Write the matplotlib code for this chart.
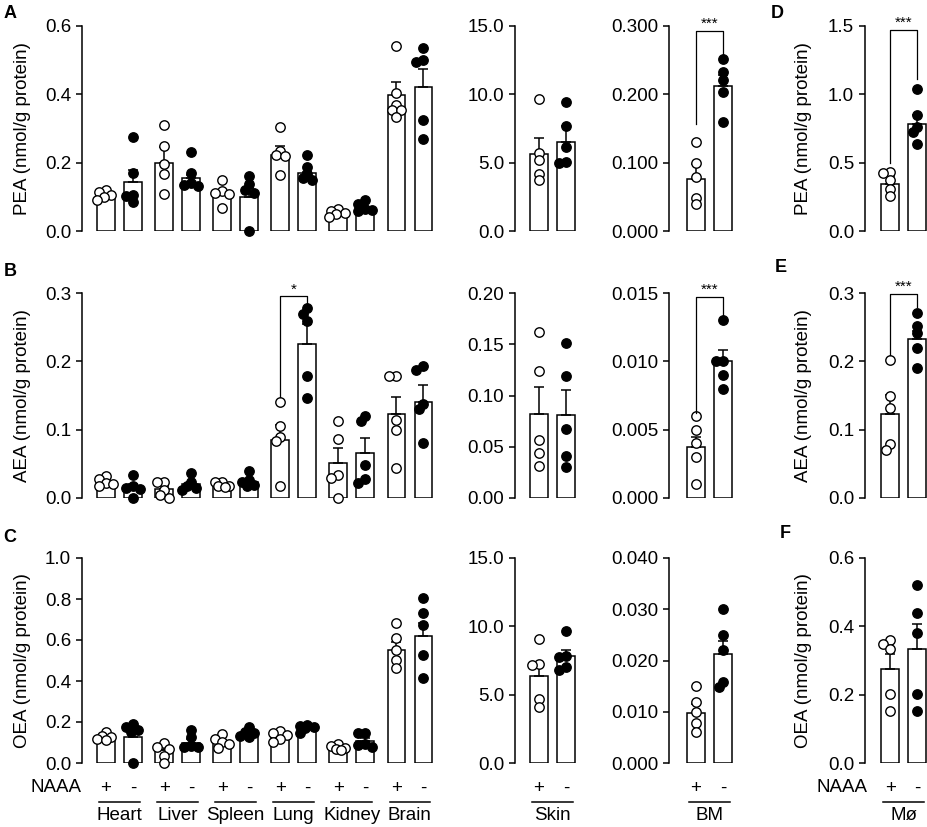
import numpy as np
import matplotlib
matplotlib.use("Agg")
import matplotlib.pyplot as plt
import matplotlib.transforms as mtransforms

plt.rcParams["font.family"] = ["Liberation Sans", "DejaVu Sans"]

# ---------------- data ----------------
tissues = ["Heart", "Liver", "Spleen", "Lung", "Kidney", "Brain"]

# PEA, tissues
pea_plus_pts = [[0.12, 0.115, 0.105, 0.10, 0.09],
                [0.31, 0.249, 0.195, 0.168, 0.107],
                [0.149, 0.117, 0.11, 0.107, 0.068],
                [0.305, 0.235, 0.222, 0.22, 0.165],
                [0.065, 0.06, 0.054, 0.05, 0.041],
                [0.542, 0.405, 0.37, 0.355, 0.355, 0.335]]
pea_minus_pts = [[0.276, 0.17, 0.105, 0.103, 0.084],
                 [0.232, 0.171, 0.14, 0.135, 0.133],
                 [0.16, 0.137, 0.119, 0.11, 0.0],
                 [0.222, 0.188, 0.168, 0.155, 0.15],
                 [0.09, 0.078, 0.065, 0.062, 0.058],
                 [0.535, 0.50, 0.495, 0.325, 0.27]]
pea_plus_mean = [0.105, 0.200, 0.11, 0.222, 0.053, 0.397]
pea_plus_sem = [0.005, 0.046, 0.009, 0.027, 0.004, 0.039]
pea_minus_mean = [0.144, 0.156, 0.10, 0.17, 0.06, 0.422]
pea_minus_sem = [0.035, 0.007, 0.025, 0.004, 0.005, 0.052]

pea_skin_pts = [[9.68, 5.68, 5.19, 4.2, 3.7], [9.43, 7.7, 6.17, 5.06, 5.0]]
pea_skin_mean = [5.63, 6.54]
pea_skin_sem = [1.16, 1.16]
pea_bm_pts = [[0.13, 0.099, 0.079, 0.049, 0.0395], [0.252, 0.232, 0.221, 0.203, 0.159]]
pea_bm_mean = [0.0766, 0.2116]
pea_bm_sem = [0.0208, 0.016]
pea_mac_pts = [[0.43, 0.425, 0.37, 0.31, 0.255], [1.037, 0.846, 0.76, 0.723, 0.637]]
pea_mac_mean = [0.343, 0.784]
pea_mac_sem = [0.057, 0.068]

# AEA, tissues
aea_plus_pts = [[0.032, 0.028, 0.022, 0.02, 0.018],
                [0.024, 0.023, 0.012, 0.005, 0.0],
                [0.024, 0.024, 0.018, 0.017, 0.016],
                [0.141, 0.105, 0.09, 0.083, 0.018],
                [0.113, 0.086, 0.034, 0.029, 0.0],
                [0.179, 0.179, 0.114, 0.1, 0.044]]
aea_minus_pts = [[0.034, 0.017, 0.015, 0.013, 0.0],
                 [0.037, 0.024, 0.017, 0.015, 0.012],
                 [0.04, 0.027, 0.023, 0.019, 0.017],
                 [0.278, 0.269, 0.259, 0.178, 0.147],
                 [0.12, 0.113, 0.049, 0.028, 0.022],
                 [0.193, 0.188, 0.138, 0.13, 0.08]]
aea_plus_mean = [0.022, 0.013, 0.02, 0.085, 0.051, 0.123]
aea_plus_sem = [0.003, 0.005, 0.002, 0.022, 0.022, 0.025]
aea_minus_mean = [0.016, 0.02, 0.024, 0.225, 0.066, 0.141]
aea_minus_sem = [0.005, 0.004, 0.004, 0.029, 0.022, 0.024]

aea_skin_pts = [[0.1616, 0.124, 0.057, 0.044, 0.031], [0.151, 0.119, 0.067, 0.041, 0.030]]
aea_skin_mean = [0.082, 0.081]
aea_skin_sem = [0.026, 0.024]
aea_bm_pts = [[0.006, 0.005, 0.004, 0.003, 0.001], [0.013, 0.01, 0.01, 0.009, 0.008]]
aea_bm_mean = [0.0037, 0.0100]
aea_bm_sem = [0.0008, 0.0008]
aea_mac_pts = [[0.2015, 0.149, 0.132, 0.079, 0.07], [0.271, 0.251, 0.241, 0.22, 0.19]]
aea_mac_mean = [0.123, 0.232]
aea_mac_sem = [0.028, 0.012]

# OEA, tissues
oea_plus_pts = [[0.152, 0.13, 0.127, 0.119, 0.111],
                [0.098, 0.078, 0.07, 0.033, 0.0],
                [0.14, 0.119, 0.103, 0.095, 0.075],
                [0.155, 0.144, 0.135, 0.119, 0.103],
                [0.091, 0.082, 0.075, 0.07, 0.065],
                [0.684, 0.61, 0.551, 0.502, 0.465]]
oea_minus_pts = [[0.19, 0.176, 0.163, 0.152, 0.0],
                 [0.163, 0.127, 0.082, 0.078, 0.078],
                 [0.176, 0.152, 0.144, 0.13, 0.127],
                 [0.184, 0.179, 0.176, 0.173, 0.148],
                 [0.147, 0.144, 0.095, 0.086, 0.078],
                 [0.805, 0.732, 0.673, 0.527, 0.415]]
oea_plus_mean = [0.124, 0.062, 0.103, 0.127, 0.076, 0.551]
oea_plus_sem = [0.007, 0.017, 0.011, 0.009, 0.004, 0.04]
oea_minus_mean = [0.127, 0.1, 0.14, 0.168, 0.105, 0.621]
oea_minus_sem = [0.035, 0.016, 0.009, 0.006, 0.015, 0.062]

oea_skin_pts = [[9.08, 7.24, 7.17, 4.65, 4.11], [9.69, 7.83, 7.78, 7.05, 6.8]]
oea_skin_mean = [6.39, 7.8]
oea_skin_sem = [0.95, 0.5]
oea_bm_pts = [[0.0151, 0.012, 0.0099, 0.0078, 0.006], [0.030, 0.0249, 0.0221, 0.0158, 0.0148]]
oea_bm_mean = [0.0098, 0.0213]
oea_bm_sem = [0.0017, 0.0026]
oea_mac_pts = [[0.361, 0.349, 0.333, 0.201, 0.151], [0.52, 0.44, 0.381, 0.201, 0.151]]
oea_mac_mean = [0.274, 0.335]
oea_mac_sem = [0.046, 0.073]

# significance brackets: (left leg bottom, top, right leg bottom)
sig_pea_bm = [0.156, 0.293, 0.252]
sig_pea_mac = [0.50, 1.47, 1.115]
sig_aea_lung = [0.148, 0.295, 0.279]
sig_aea_bm = [0.0062, 0.0147, 0.0134]
sig_aea_mac = [0.21, 0.2985, 0.28]

# ---------------- layout ----------------
W, H = 927, 827
UNIT = 27.0      # pixels per bar slot
GROUP = 2.15     # slot distance between tissue groups
FS = 13.5
LW = 1.1

fig = plt.figure(figsize=(W / 100, H / 100), dpi=100)


def px_axes(x0, xlim, row):
    y0, y1 = row
    w = (xlim[1] - xlim[0]) * UNIT
    ax = fig.add_axes([x0 / W, 1 - y1 / H, w / W, (y1 - y0) / H])
    ax.set_xlim(*xlim)
    for s in ["top", "right", "bottom"]:
        ax.spines[s].set_visible(False)
    ax.spines["left"].set_linewidth(LW)
    ax.set_xticks([])
    ax.tick_params(axis="y", direction="out", length=4.3, width=LW,
                   labelsize=FS, pad=3.5)
    return ax


def set_y(ax, ymax, step, fmt):
    ticks = np.arange(0, ymax + step / 2, step)
    ax.set_ylim(0, ymax)
    ax.set_yticks(ticks, [fmt % t for t in ticks])


def swarm(vals, ppy, diam=9.0):
    cands = [0, -4.5, 4.5, -7, 7, -2.5, 2.5, -9, 9]
    placed = []
    for v in vals:
        y = v * ppy
        best, best_d = 0, -1
        for c in cands:
            d = min([np.hypot(c - px, y - py) for px, py in placed] or [1e9])
            if d >= 0.7 * diam:
                best = c
                break
            if d > best_d:
                best_d, best = d, c
        placed.append((best, y))
    return [p[0] / UNIT for p in placed]


def draw(ax, xs, means, sems, pts, filled, ppy):
    ax.bar(xs, means, width=0.65, color="white", edgecolor="black",
           linewidth=LW, zorder=1)
    ax.errorbar(xs, means, yerr=[np.zeros(len(sems)), sems], fmt="none",
                ecolor="black", elinewidth=LW, capsize=3.5, capthick=LW,
                zorder=2)
    for x, p in zip(xs, pts):
        off = swarm(p, ppy)
        ax.scatter(np.array(off) + x, p, s=46,
                   facecolor="black" if filled else "white",
                   edgecolor="black", linewidth=1.0, zorder=3, clip_on=False)


def bracket(ax, x1, x2, ys, stars):
    yl, yt, yr = ys
    ax.plot([x1, x1, x2, x2], [yl, yt, yt, yr], color="black", lw=0.9,
            zorder=4, clip_on=False)
    shift = mtransforms.ScaledTranslation(0, 3 / 100, fig.dpi_scale_trans)
    ax.text((x1 + x2) / 2, yt, stars, ha="center", va="baseline",
            fontsize=11, transform=ax.transData + shift)


def under_labels(ax, xp, xm, name):
    tr = mtransforms.blended_transform_factory(ax.transData, ax.transAxes)
    ax.text(xp, -0.122, "+", ha="center", va="center", fontsize=FS,
            transform=tr)
    ax.text(xm, -0.122, "-", ha="center", va="center", fontsize=FS,
            transform=tr)
    ax.plot([xp - 0.25, xm + 0.25], [-0.19, -0.19], color="black", lw=LW,
            transform=tr, clip_on=False)
    ax.text((xp + xm) / 2, -0.258, name, ha="center", va="center",
            fontsize=FS, transform=tr)


rows = [(26, 231), (293, 498), (558, 763)]
main_x0, main_xlim = 82, (-0.89, 12.26)
skin_x0, skin_xlim = 515, (-0.89, 1.9)
bm_x0, bm_xlim = 669, (-1.0, 1.8)
mac_x0, mac_xlim = 865, (-0.93, 1.35)

xp = np.arange(len(tissues)) * GROUP
xm = xp + 1

lipids = [
    ("PEA", pea_plus_pts, pea_minus_pts, pea_plus_mean, pea_minus_mean,
     pea_plus_sem, pea_minus_sem, (0.6, 0.2, "%.1f"),
     pea_skin_pts, pea_skin_mean, pea_skin_sem, (15.0, 5.0, "%.1f"),
     pea_bm_pts, pea_bm_mean, pea_bm_sem, (0.3, 0.1, "%.3f"),
     pea_mac_pts, pea_mac_mean, pea_mac_sem, (1.5, 0.5, "%.1f")),
    ("AEA", aea_plus_pts, aea_minus_pts, aea_plus_mean, aea_minus_mean,
     aea_plus_sem, aea_minus_sem, (0.3, 0.1, "%.1f"),
     aea_skin_pts, aea_skin_mean, aea_skin_sem, (0.2, 0.05, "%.2f"),
     aea_bm_pts, aea_bm_mean, aea_bm_sem, (0.015, 0.005, "%.3f"),
     aea_mac_pts, aea_mac_mean, aea_mac_sem, (0.3, 0.1, "%.1f")),
    ("OEA", oea_plus_pts, oea_minus_pts, oea_plus_mean, oea_minus_mean,
     oea_plus_sem, oea_minus_sem, (1.0, 0.2, "%.1f"),
     oea_skin_pts, oea_skin_mean, oea_skin_sem, (15.0, 5.0, "%.1f"),
     oea_bm_pts, oea_bm_mean, oea_bm_sem, (0.04, 0.01, "%.3f"),
     oea_mac_pts, oea_mac_mean, oea_mac_sem, (0.6, 0.2, "%.1f")),
]

axes = []
for r, lip in enumerate(lipids):
    (name, ppts, mpts, pmean, mmean, psem, msem, yspec,
     skpts, skmean, sksem, skspec, bmpts, bmmean, bmsem, bmspec,
     mcpts, mcmean, mcsem, mcspec) = lip
    row = rows[r]
    hpx = row[1] - row[0]

    ax = px_axes(main_x0, main_xlim, row)
    set_y(ax, *yspec)
    ppy = hpx / yspec[0]
    draw(ax, xp, pmean, psem, ppts, False, ppy)
    draw(ax, xm, mmean, msem, mpts, True, ppy)

    axs = px_axes(skin_x0, skin_xlim, row)
    set_y(axs, *skspec)
    ppy = hpx / skspec[0]
    draw(axs, [0], [skmean[0]], [sksem[0]], [skpts[0]], False, ppy)
    draw(axs, [1], [skmean[1]], [sksem[1]], [skpts[1]], True, ppy)

    axb = px_axes(bm_x0, bm_xlim, row)
    set_y(axb, *bmspec)
    ppy = hpx / bmspec[0]
    draw(axb, [0], [bmmean[0]], [bmsem[0]], [bmpts[0]], False, ppy)
    draw(axb, [1], [bmmean[1]], [bmsem[1]], [bmpts[1]], True, ppy)

    axm = px_axes(mac_x0, mac_xlim, row)
    set_y(axm, *mcspec)
    ppy = hpx / mcspec[0]
    draw(axm, [0], [mcmean[0]], [mcsem[0]], [mcpts[0]], False, ppy)
    draw(axm, [1], [mcmean[1]], [mcsem[1]], [mcpts[1]], True, ppy)

    yc = 1 - (row[0] + row[1]) / 2 / H
    fig.text(23 / W, yc, name + " (nmol/g protein)", rotation=90,
             ha="center", va="center", fontsize=FS)
    fig.text(803 / W, yc, name + " (nmol/g protein)", rotation=90,
             ha="center", va="center", fontsize=FS)
    axes.append((ax, axs, axb, axm))

# significance
bracket(axes[0][2], 0, 1, sig_pea_bm, "***")
bracket(axes[0][3], 0, 1, sig_pea_mac, "***")
bracket(axes[1][0], xp[3], xm[3], sig_aea_lung, "*")
bracket(axes[1][2], 0, 1, sig_aea_bm, "***")
bracket(axes[1][3], 0, 1, sig_aea_mac, "***")

# bottom labels
axc, axcs, axcb, axcm = axes[2]
for i, t in enumerate(tissues):
    under_labels(axc, xp[i], xm[i], t)
under_labels(axcs, 0, 1, "Skin")
under_labels(axcb, 0, 1, "BM")
under_labels(axcm, 0, 1, "M\u00f8")
fig.text(81 / W, 1 - 788 / H, "NAAA", ha="right", va="center", fontsize=FS)
fig.text(868 / W, 1 - 788 / H, "NAAA", ha="right", va="center", fontsize=FS)

# panel letters
for letter, (x, y) in zip("ABCDEF", [(10, 13), (10, 272), (10, 537),
                                     (777, 13), (781, 268), (785, 533)]):
    fig.text(x / W, 1 - y / H, letter, ha="center", va="center",
             fontsize=13, fontweight="bold")

fig.savefig("out.png", dpi=100)
